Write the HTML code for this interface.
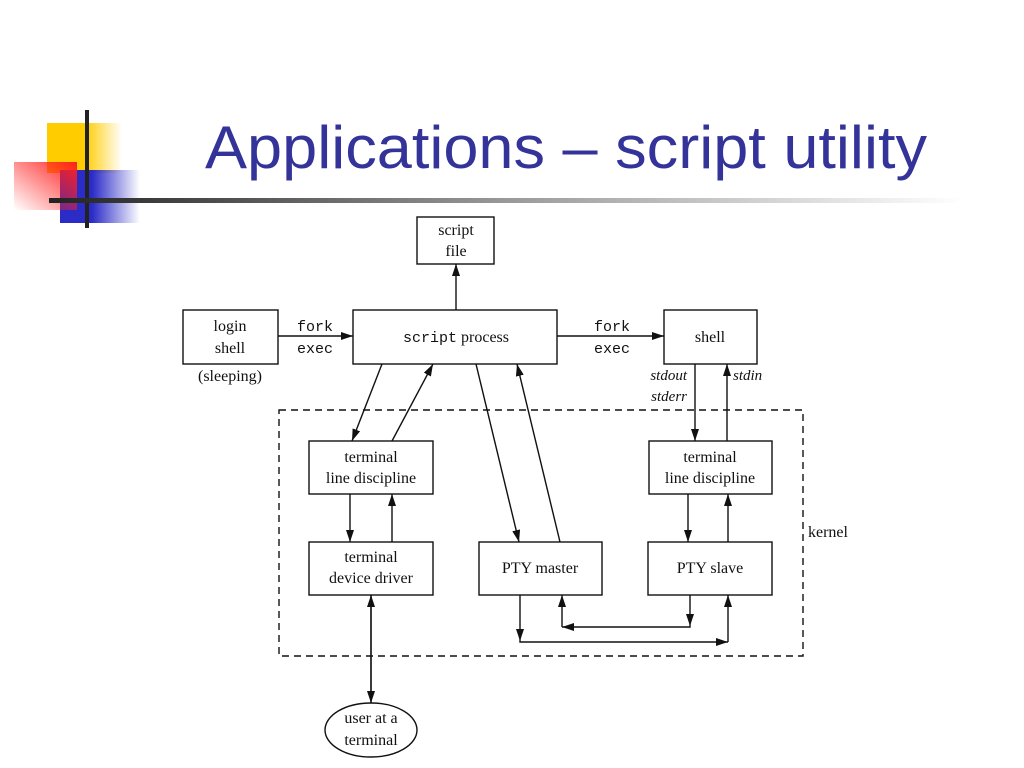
<!DOCTYPE html>
<html><head><meta charset="utf-8"><style>
html,body{margin:0;padding:0;background:#fff;}
svg{display:block;}
.s{font-family:"Liberation Serif",serif;font-size:16px;fill:#111;}
.m{font-family:"Liberation Mono",monospace;font-size:15px;fill:#111;}
.i{font-family:"Liberation Serif",serif;font-style:italic;font-size:15px;fill:#111;}
</style></head><body>
<svg width="1024" height="768" viewBox="0 0 1024 768" xmlns="http://www.w3.org/2000/svg">
<defs>
<linearGradient id="y" x1="0" x2="1"><stop offset="0.5" stop-color="#ffcc00"/><stop offset="1" stop-color="#ffcc00" stop-opacity="0"/></linearGradient>
<linearGradient id="r" x1="1" y1="0" x2="0" y2="1"><stop offset="0" stop-color="#ff2020"/><stop offset="1" stop-color="#ff2020" stop-opacity="0"/></linearGradient>
<linearGradient id="b" x1="0" x2="1"><stop offset="0.4" stop-color="#2b2bc8"/><stop offset="1" stop-color="#2b2bc8" stop-opacity="0"/></linearGradient>
<linearGradient id="bar" x1="0" x2="1"><stop offset="0" stop-color="#222"/><stop offset="0.5" stop-color="#999"/><stop offset="1" stop-color="#fff"/></linearGradient>
<marker id="a" viewBox="0 0 12 10" refX="12" refY="5" markerWidth="12" markerHeight="10" markerUnits="userSpaceOnUse" orient="auto"><path d="M0,1 L12,5 L0,9z" fill="#111"/></marker>
</defs>
<rect x="47" y="123" width="75" height="50" fill="url(#y)"/>
<rect x="60" y="170" width="80" height="53" fill="url(#b)"/>
<rect x="14" y="162" width="63" height="48" fill="url(#r)"/>
<rect x="85" y="110" width="4" height="118" fill="#222"/>
<rect x="49" y="198" width="915" height="5" fill="url(#bar)"/>
<text x="205" y="168" font-family="Liberation Sans,sans-serif" font-size="60" fill="#333399" textLength="722" lengthAdjust="spacingAndGlyphs">Applications – script utility</text>

<g fill="none" stroke="#111" stroke-width="1.4">
<rect x="417" y="217" width="77" height="47"/>
<rect x="183" y="310" width="95" height="54"/>
<rect x="353" y="310" width="204" height="54"/>
<rect x="664" y="310" width="93" height="54"/>
<rect x="309" y="441" width="124" height="53"/>
<rect x="649" y="441" width="123" height="53"/>
<rect x="309" y="542" width="124" height="53"/>
<rect x="479" y="542" width="123" height="53"/>
<rect x="648" y="542" width="124" height="53"/>
<ellipse cx="371" cy="730" rx="46" ry="27"/>
<rect x="279" y="410" width="524" height="246" stroke-dasharray="7,5"/>
</g>
<g stroke="#111" stroke-width="1.4" fill="none" marker-end="url(#a)">
<line x1="456" y1="310" x2="456" y2="264"/>
<line x1="278" y1="336" x2="353" y2="336"/>
<line x1="557" y1="336" x2="664" y2="336"/>
<line x1="382" y1="364" x2="352" y2="441"/>
<line x1="392" y1="441" x2="433" y2="364"/>
<line x1="476" y1="364" x2="519" y2="542"/>
<line x1="560" y1="542" x2="517" y2="364"/>
<line x1="695" y1="364" x2="695" y2="441"/>
<line x1="727" y1="441" x2="727" y2="364"/>
<line x1="350" y1="494" x2="350" y2="542"/>
<line x1="392" y1="542" x2="392" y2="494"/>
<line x1="688" y1="494" x2="688" y2="542"/>
<line x1="728" y1="542" x2="728" y2="494"/>
<line x1="371" y1="595" x2="371" y2="703"/>
<line x1="371" y1="703" x2="371" y2="595"/>
<line x1="520" y1="595" x2="520" y2="641"/>
<polyline points="520,641 520,642 728,642"/>
<line x1="728" y1="642" x2="728" y2="595"/>
<line x1="690" y1="595" x2="690" y2="626"/>
<polyline points="690,626 690,627 562,627"/>
<line x1="562" y1="627" x2="562" y2="595"/>
</g>
<g text-anchor="middle">
<text class="s" x="456" y="235">script</text>
<text class="s" x="456" y="256">file</text>
<text class="s" x="230" y="331">login</text>
<text class="s" x="230" y="353">shell</text>
<text class="s" x="230" y="381">(sleeping)</text>
<text class="m" x="315" y="331">fork</text>
<text class="m" x="315" y="353">exec</text>
<text class="m" x="612" y="331">fork</text>
<text class="m" x="612" y="353">exec</text>
<text x="456" y="342"><tspan class="m">script</tspan><tspan class="s"> process</tspan></text>
<text class="s" x="710" y="342">shell</text>
<text class="s" x="371" y="462">terminal</text>
<text class="s" x="371" y="483">line discipline</text>
<text class="s" x="710" y="462">terminal</text>
<text class="s" x="710" y="483">line discipline</text>
<text class="s" x="371" y="562">terminal</text>
<text class="s" x="371" y="583">device driver</text>
<text class="s" x="540" y="573">PTY master</text>
<text class="s" x="710" y="573">PTY slave</text>
<text class="s" x="371" y="723">user at a</text>
<text class="s" x="371" y="745">terminal</text>
</g>
<text class="i" x="687" y="380" text-anchor="end">stdout</text>
<text class="i" x="687" y="401" text-anchor="end">stderr</text>
<text class="i" x="733" y="380">stdin</text>
<text class="s" x="808" y="537">kernel</text>
</svg>
</body></html>
